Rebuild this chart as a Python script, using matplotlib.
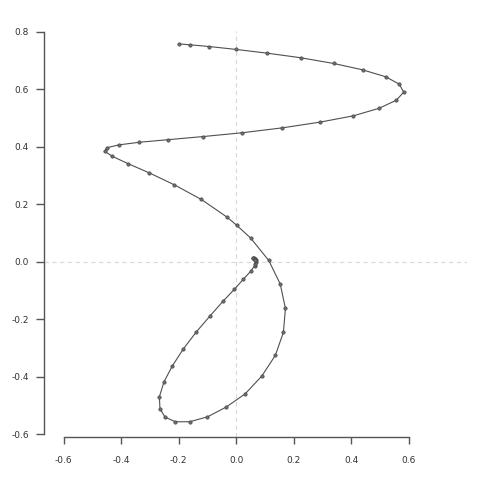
import matplotlib
matplotlib.use('Agg')
import matplotlib.pyplot as plt
import numpy as np

# trajectory points (from the upper-left end to the inner hook)
x_vals = [-0.198, -0.160, -0.094, -0.001, 0.107, 0.224, 0.339, 0.439, 0.519, 0.567,
          0.582, 0.556, 0.496, 0.407, 0.291, 0.159, 0.020, -0.114, -0.237, -0.337,
          -0.407, -0.450, -0.456, -0.430, -0.377, -0.303, -0.215, -0.121, -0.031, 0.002,
          0.050, 0.113, 0.153, 0.171, 0.164, 0.136, 0.089, 0.031, -0.035, -0.100,
          -0.162, -0.212, -0.247, -0.265, -0.267, -0.251, -0.222, -0.184, -0.139, -0.091,
          -0.046, -0.006, 0.025, 0.051, 0.064, 0.067, 0.069, 0.070, 0.067, 0.062,
          0.058, 0.060, 0.064, 0.066, 0.065]
y_vals = [0.758, 0.755, 0.749, 0.739, 0.726, 0.710, 0.690, 0.668, 0.644, 0.618,
          0.590, 0.562, 0.534, 0.508, 0.486, 0.466, 0.449, 0.436, 0.425, 0.416,
          0.407, 0.397, 0.384, 0.367, 0.342, 0.310, 0.268, 0.217, 0.155, 0.127,
          0.083, 0.005, -0.077, -0.162, -0.245, -0.325, -0.397, -0.459, -0.505, -0.539,
          -0.556, -0.556, -0.540, -0.511, -0.469, -0.417, -0.362, -0.303, -0.244, -0.188,
          -0.137, -0.095, -0.060, -0.032, -0.013, -0.006, 0.001, 0.007, 0.011, 0.013,
          0.014, 0.012, 0.010, 0.008, 0.007]
x_ticks = [-0.6, -0.4, -0.2, 0.0, 0.2, 0.4, 0.6]
y_ticks = [-0.6, -0.4, -0.2, 0.0, 0.2, 0.4, 0.6, 0.8]

fig = plt.figure(figsize=(4.8, 4.8), dpi=100)
ax = fig.add_axes([44 / 480, 1 - 436.7 / 480, 423 / 480, 405.7 / 480])

ax.axhline(0, color='#d8d8d8', lw=0.8, ls=(0, (4, 3)), zorder=1)
ax.axvline(0, color='#d8d8d8', lw=0.8, ls=(0, (4, 3)), zorder=1)

ax.plot(x_vals, y_vals, color='#505050', lw=0.8, marker='o', ms=2.4,
        mfc='#707070', mec='#454545', mew=0.5, zorder=3)

ax.set_xlim(-0.668, 0.802)
ax.set_ylim(-0.608, 0.803)

for s in ['top', 'right']:
    ax.spines[s].set_visible(False)
for s in ['left', 'bottom']:
    ax.spines[s].set_color('#555555')
    ax.spines[s].set_linewidth(1.0)
ax.spines['left'].set_bounds(-0.6, 0.8)
ax.spines['bottom'].set_bounds(-0.6, 0.6)

ax.set_xticks(x_ticks)
ax.set_yticks(y_ticks)
ax.set_xticklabels([f'{v:.1f}' for v in x_ticks])
ax.set_yticklabels([f'{v:.1f}' for v in y_ticks])
ax.tick_params(axis='x', length=5, width=1, color='#555555', pad=9,
               labelsize=6.5, labelcolor='#333333')
ax.tick_params(axis='y', length=6, width=1, color='#555555', pad=5,
               labelsize=6.5, labelcolor='#333333')

fig.savefig('out.png', dpi=100)
